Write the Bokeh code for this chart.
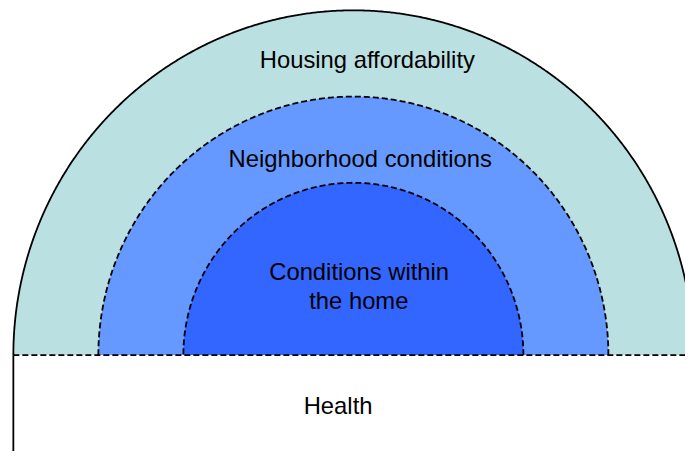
import numpy as np
from bokeh.plotting import figure
from bokeh.models import Range1d
from bokeh.core.properties import value
from bokeh.embed import file_html
from bokeh.resources import INLINE

# ---- data ----
ring_names = ["Housing affordability", "Neighborhood conditions", "Conditions within the home"]
ring_radii = [1.0, 0.75, 0.5]
ring_colors = ["#bae0e2", "#6699ff", "#3366ff"]
ring_dash = ["solid", "6 3", "6 3"]

label_texts = ["Housing affordability", "Neighborhood conditions", "Conditions within", "the home", "Health"]
label_x = [0.041, 0.020, 0.017, 0.016, -0.045]
label_y = [0.858, 0.570, 0.244, 0.160, -0.147]

# ---- figure ----
W, H = 685, 451
p = figure(width=W, height=H,
           x_range=Range1d(-357 / 344, (693 - 357) / 344),
           y_range=Range1d(-(459 - 361) / 351, 361 / 351),
           output_backend="svg", toolbar_location=None, min_border=0)
p.axis.visible = False
p.grid.visible = False
p.outline_line_color = None
p.background_fill_color = "white"
p.border_fill_color = "white"

theta = np.linspace(0, np.pi, 721)
for r, c, d in zip(ring_radii, ring_colors, ring_dash):
    xs = list(r * np.cos(theta))
    ys = list(r * np.sin(theta))
    p.patch(xs, ys, fill_color=c, line_color=None)
    p.line(xs, ys, line_color="black", line_width=1.8, line_dash=d)

# Health area below baseline
outer = ring_radii[0]
p.quad(left=[-outer], right=[outer + 0.2], bottom=[-0.6], top=[0], fill_color="white", line_color=None)
p.line([-outer, -outer], [0, -0.6], line_color="black", line_width=1.8)
p.line([-outer, outer + 0.2], [0, 0], line_color="black", line_width=1.8, line_dash="6 3")

p.text(x=label_x, y=label_y, text=label_texts, text_align="center", text_baseline="alphabetic",
       text_font=value("Liberation Sans"), text_font_size="23.8px", text_color="black")

open("out.html", "w").write(file_html(p, INLINE))
